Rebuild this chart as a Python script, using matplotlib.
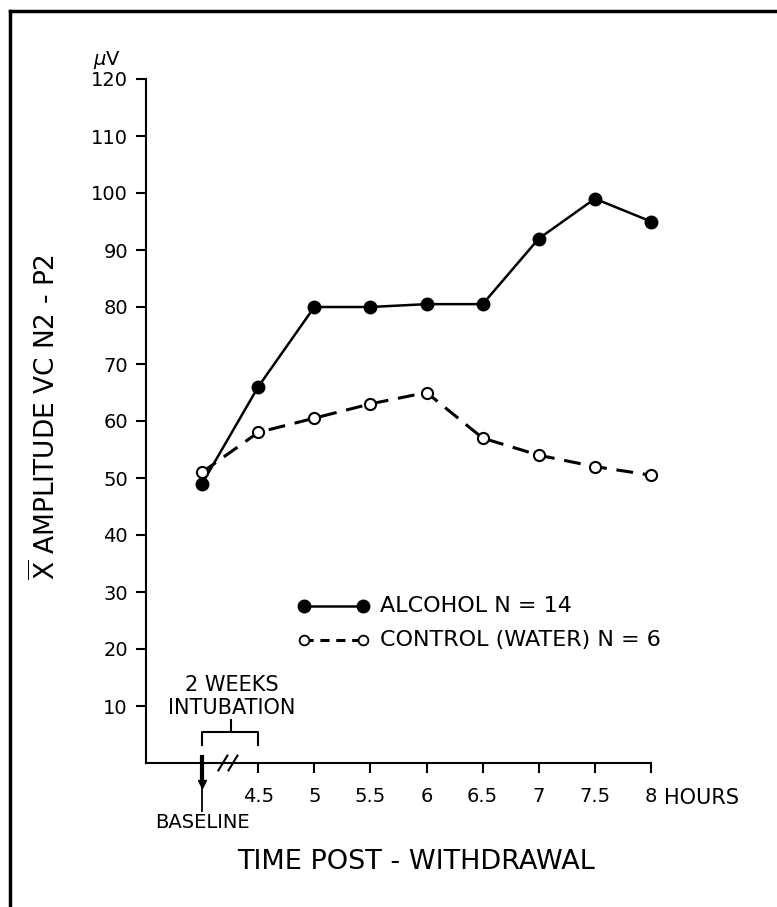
import matplotlib
matplotlib.use("Agg")
import matplotlib.pyplot as plt
from matplotlib.lines import Line2D

# data
time_labels = ['BASELINE', '4.5', '5', '5.5', '6', '6.5', '7', '7.5', '8']
alcohol = [49, 66, 80, 80, 80.5, 80.5, 92, 99, 95]
control = [51, 58, 60.5, 63, 65, 57, 54, 52, 50.5]
y_ticks = [10, 20, 30, 40, 50, 60, 70, 80, 90, 100, 110, 120]

plt.rcParams['font.family'] = 'DejaVu Sans'

W, H = 777, 907
fig = plt.figure(figsize=(W / 100, H / 100), dpi=100)
ax = fig.add_axes([146 / W, 1 - 763 / H, (651 - 146) / W, (763 - 79) / H])

xpos = list(range(len(time_labels)))

ax.plot(xpos, alcohol, color='black', lw=1.8, marker='o', ms=9,
        mfc='black', mec='black', zorder=3, clip_on=False)
ax.plot(xpos, control, color='black', lw=2.2, dashes=(5.5, 3.2), marker='o', ms=8,
        mfc='white', mec='black', mew=1.5, zorder=4, clip_on=False)

ax.set_xlim(-1, 8)
ax.set_ylim(0, 120)

# axes look
ax.spines['top'].set_visible(False)
ax.spines['right'].set_visible(False)
ax.spines['left'].set_linewidth(1.5)
ax.spines['bottom'].set_linewidth(1.5)

ax.set_yticks(y_ticks)
ax.set_yticklabels([str(v) for v in y_ticks])
ax.set_xticks(xpos[1:])
ax.set_xticklabels(time_labels[1:])
ax.tick_params(axis='both', direction='out', length=7, width=1.5, labelsize=14, pad=6)
ax.tick_params(axis='x', pad=10)

# baseline arrow and label
ax.plot([0, 0], [1, -8.5], color='black', lw=1.3, clip_on=False)
ax.plot([0, 0], [1, -3.2], color='black', lw=3, clip_on=False)
ax.plot([0], [-3.6], marker='v', ms=6, color='black', clip_on=False)
ax.text(0, -10.5, 'BASELINE', ha='center', va='center', fontsize=14, clip_on=False)

# axis break marks
for xb in (0.37, 0.55):
    ax.plot([xb - 0.08, xb + 0.08], [-1.3, 1.3], color='black', lw=1.5, clip_on=False)

# intubation bracket
ax.plot([0, 0, 1, 1], [3.2, 5.4, 5.4, 3.2], color='black', lw=1.5)
ax.plot([0.52, 0.52], [5.4, 7.6], color='black', lw=1.5)
ax.text(0.53, 13.6, '2 WEEKS', ha='center', va='center', fontsize=15)
ax.text(0.53, 9.7, 'INTUBATION', ha='center', va='center', fontsize=15)

# "HOURS" after last tick
ax.text(8.23, -6.1, 'HOURS', ha='left', va='center', fontsize=15, clip_on=False)

# legend drawn by hand
ax.plot([1.82, 2.87], [27.5, 27.5], color='black', lw=1.8, marker='o', ms=9)
ax.text(3.17, 27.5, 'ALCOHOL N = 14', ha='left', va='center', fontsize=16)
ax.plot([1.82, 2.87], [21.6, 21.6], color='black', lw=2.2, dashes=(3, 2.2),
        marker='o', ms=7, mfc='white', mew=1.3)
ax.text(3.17, 21.6, 'CONTROL (WATER) N = 6', ha='left', va='center', fontsize=16)

# units, axis titles
fig.text(107 / W, 1 - 60 / H, r'$\mu$V', ha='center', va='center', fontsize=14)
fig.text(45 / W, 1 - 417 / H, r'$\overline{\mathrm{X}}$ AMPLITUDE VC N2 - P2',
         rotation=90, ha='center', va='center', fontsize=19)
fig.text(416 / W, 1 - 862 / H, 'TIME POST - WITHDRAWAL', ha='center', va='center',
         fontsize=19.5)

# page frame (top and left)
fig.add_artist(Line2D([10 / W, 1], [1 - 11 / H, 1 - 11 / H], color='black', lw=2.5))
fig.add_artist(Line2D([10 / W, 10 / W], [1 - 11 / H, 0], color='black', lw=2.5))

fig.savefig('out.png', dpi=100, facecolor='white')
